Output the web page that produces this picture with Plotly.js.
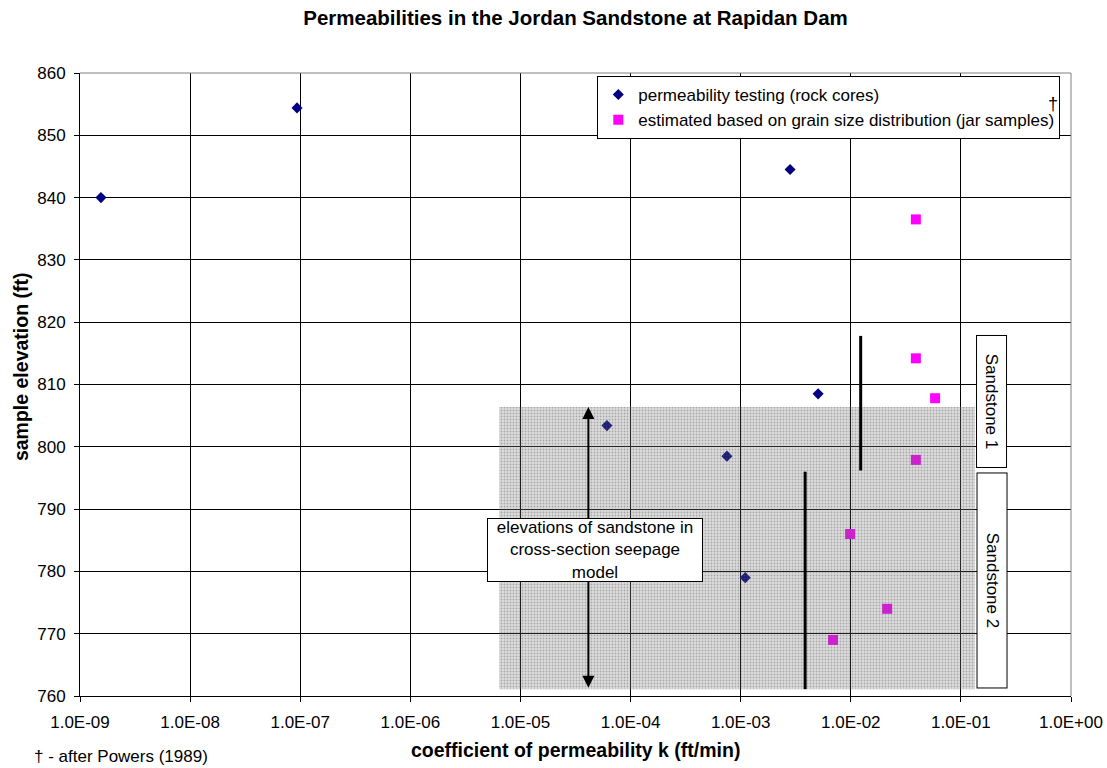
<!DOCTYPE html>
<html>
<head>
<meta charset="utf-8">
<script src="https://cdn.plot.ly/plotly-3.0.1.min.js"></script>
<style>html,body{margin:0;padding:0;background:#fff;}#chart{width:1107px;height:768px;}</style>
</head>
<body>
<div id="chart"></div>
<script>
// Permeability testing (rock cores)
const coreK = [1.55e-9, 9.35e-8, 2.81e-3, 5.05e-3, 6.1e-5, 7.5e-4, 1.1e-3];
const coreElev = [840, 854.4, 844.5, 808.5, 803.4, 798.5, 779.0];
// Estimated from grain size distribution (jar samples)
const jarK = [0.039, 0.039, 0.0583, 0.039, 0.00986, 0.0214, 0.0069];
const jarElev = [836.5, 814.2, 807.8, 797.9, 786.0, 774.0, 769.0];
// Sandstone zone in cross-section seepage model
const zoneK = [6.4e-6, 0.1346];
const zoneElev = [761.1, 806.4];
// Vertical bars
const bar1K = 3.85e-3, bar1Elev = [761.1, 796.0];
const bar2K = 0.0123, bar2Elev = [796.2, 817.8];
// Double arrow
const arrowK = 4.14e-5, arrowElev = [761.1, 806.4];
// Tick labels
const xTickVals = [1e-9,1e-8,1e-7,1e-6,1e-5,1e-4,1e-3,1e-2,1e-1,1];
const xTickText = ["1.0E-09","1.0E-08","1.0E-07","1.0E-06","1.0E-05","1.0E-04","1.0E-03","1.0E-02","1.0E-01","1.0E+00"];

const FONT = "Liberation Sans, Arial, sans-serif";

const traces = [
  {x: coreK, y: coreElev, mode: 'markers', type: 'scatter', name: 'permeability testing (rock cores)',
   marker: {symbol: 'diamond', size: 8.5, color: '#000080'}},
  {x: jarK, y: jarElev, mode: 'markers', type: 'scatter', name: 'estimated based on grain size distribution (jar samples)',
   marker: {symbol: 'square', size: 10, color: '#FF00FF'}},
  {x: [zoneK[0], zoneK[1], zoneK[1], zoneK[0], zoneK[0]],
   y: [zoneElev[0], zoneElev[0], zoneElev[1], zoneElev[1], zoneElev[0]],
   mode: 'lines', type: 'scatter', fill: 'toself', showlegend: false, hoverinfo: 'skip',
   line: {width: 0, color: 'rgba(0,0,0,0)'},
   fillcolor: 'rgba(110,110,110,0.27)',
   fillpattern: {shape: '.', fgcolor: 'rgba(90,90,90,0.4)', bgcolor: 'rgba(110,110,110,0.24)', size: 3, solidity: 0.3}},
  {x: [bar1K, bar1K], y: bar1Elev, mode: 'lines', type: 'scatter', showlegend: false,
   line: {color: '#000', width: 3}},
  {x: [bar2K, bar2K], y: bar2Elev, mode: 'lines', type: 'scatter', showlegend: false,
   line: {color: '#000', width: 3}}
];

const layout = {
  width: 1107, height: 768,
  margin: {l: 80, r: 36, t: 73, b: 72},
  paper_bgcolor: '#fff', plot_bgcolor: '#fff',
  font: {family: FONT, size: 17, color: '#000'},
  title: {text: '<b>Permeabilities in the Jordan Sandstone at Rapidan Dam</b>',
          font: {family: FONT, size: 20.5, color: '#000'}, x: 0.5, xref: 'paper', y: 0.9766, yanchor: 'middle'},
  xaxis: {type: 'log', range: [-9, 0], tickvals: xTickVals, ticktext: xTickText,
          showgrid: true, gridcolor: '#000', gridwidth: 1, zeroline: false,
          showline: true, linecolor: '#000', mirror: false, linewidth: 1,
          ticks: 'outside', ticklen: 5, tickcolor: '#000', ticklabelstandoff: 6,
          tickfont: {size: 17}},
  yaxis: {range: [760, 860], dtick: 10, tick0: 760,
          showgrid: true, gridcolor: '#000', gridwidth: 1, zeroline: false,
          showline: true, linecolor: '#000', mirror: false, linewidth: 1,
          ticks: 'outside', ticklen: 5, tickcolor: '#000', ticklabelstandoff: 5,
          tickfont: {size: 17}},
  legend: {x: 0.522, y: 0.9952, xanchor: 'left', yanchor: 'top', bgcolor: '#fff',
           bordercolor: '#000', borderwidth: 1, font: {size: 17, color: '#000'}, tracegroupgap: 0,
           itemwidth: 30},
  showlegend: true,
  shapes: [
    {type: 'line', xref: 'paper', yref: 'paper', x0: 0, x1: 1, y0: 1, y1: 1, line: {color: '#808080', width: 1}},
    {type: 'line', xref: 'paper', yref: 'paper', x0: 1, x1: 1, y0: 0, y1: 1, line: {color: '#808080', width: 1}}
  ],
  annotations: [
    {x: Math.log10(arrowK), y: arrowElev[1], ax: Math.log10(arrowK), ay: arrowElev[0],
     xref: 'x', yref: 'y', axref: 'x', ayref: 'y', text: '', showarrow: true,
     arrowhead: 2, startarrowhead: 2, arrowside: 'end+start', arrowwidth: 2, arrowsize: 1.2, startarrowsize: 1.2, arrowcolor: '#000'},
    {x: 0.5197, y: 0.2343, xref: 'paper', yref: 'paper', xanchor: 'center', yanchor: 'middle',
     text: 'elevations of sandstone in<br>cross-section seepage<br>model', showarrow: false,
     bgcolor: '#fff', bordercolor: '#000', borderwidth: 1, borderpad: 0, width: 214, height: 62,
     font: {size: 17, color: '#000'}},
    {x: 0.9198, y: 0.4727, xref: 'paper', yref: 'paper', xanchor: 'center', yanchor: 'middle',
     text: 'Sandstone 1', textangle: 90, showarrow: false,
     bgcolor: '#fff', bordercolor: '#000', borderwidth: 1, borderpad: 1, width: 129, height: 27,
     font: {size: 17, color: '#000'}},
    {x: 0.9198, y: 0.1862, xref: 'paper', yref: 'paper', xanchor: 'center', yanchor: 'middle',
     text: 'Sandstone 2', textangle: 90, showarrow: false,
     bgcolor: '#fff', bordercolor: '#000', borderwidth: 1, borderpad: 1, width: 212, height: 27,
     font: {size: 17, color: '#000'}},
    {x: 0.9818, y: 0.951, xref: 'paper', yref: 'paper', xanchor: 'center', yanchor: 'middle',
     text: '†', showarrow: false, font: {size: 18, color: '#000000'}},
    {x: -0.0484, y: -0.0979, xref: 'paper', yref: 'paper', xanchor: 'left', yanchor: 'middle',
     text: '† - after Powers (1989)', showarrow: false, font: {size: 17, color: '#000'}},
    {x: 0.5, y: -0.0867, xref: 'paper', yref: 'paper', xanchor: 'center', yanchor: 'middle',
     text: '<b>coefficient of permeability k (ft/min)</b>', showarrow: false, font: {size: 19.5, color: '#000'}},
    {x: -0.0595, y: 0.528, xref: 'paper', yref: 'paper', xanchor: 'center', yanchor: 'middle',
     text: '<b>sample elevation (ft)</b>', textangle: -90, showarrow: false, font: {size: 19.5, color: '#000'}}
  ]
};

Plotly.newPlot('chart', traces, layout, {displayModeBar: false, staticPlot: true});
</script>
</body>
</html>
